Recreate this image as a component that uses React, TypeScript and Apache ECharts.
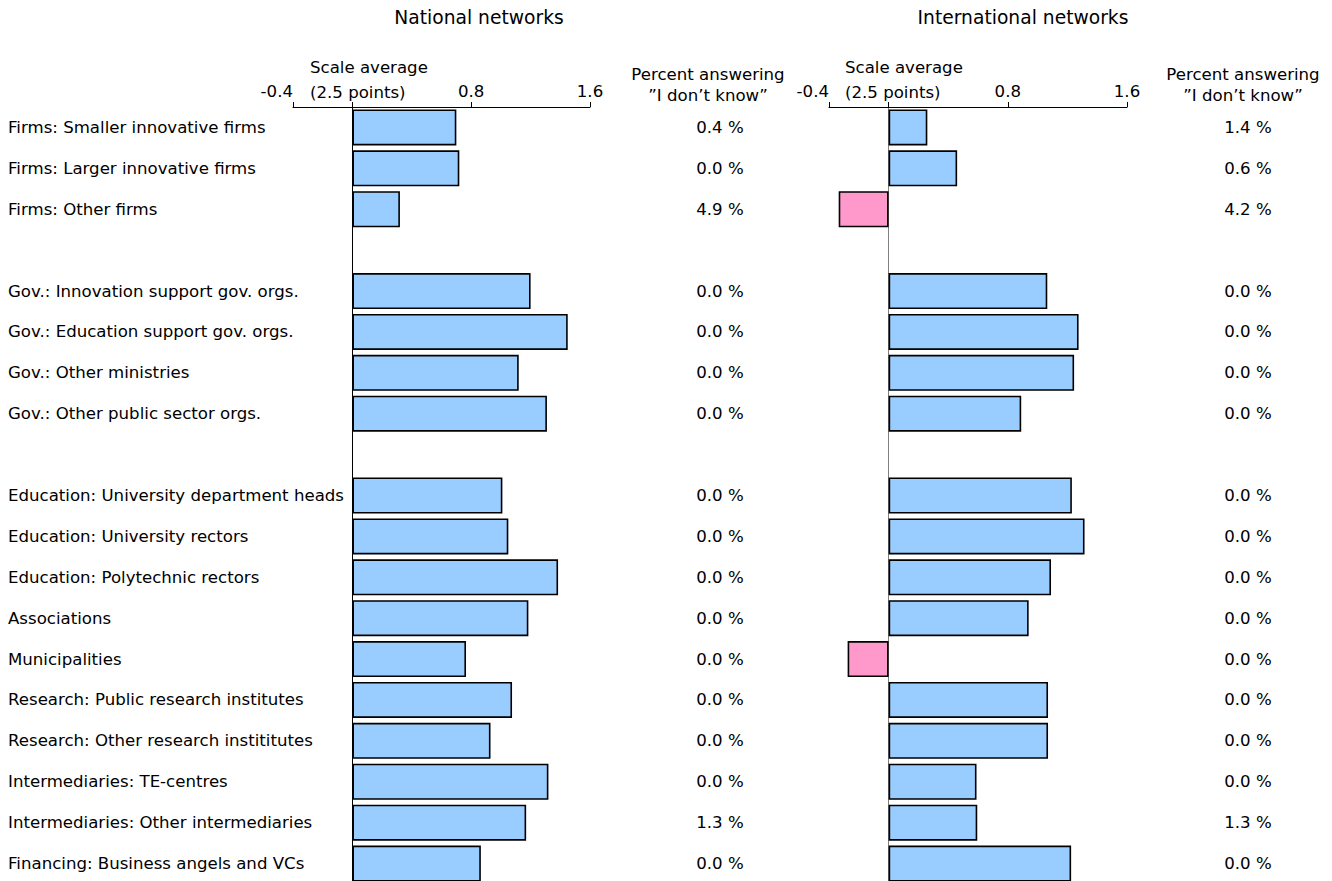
import React, { useEffect, useRef } from 'react';
import * as echarts from 'echarts';

const categories = [
  'Firms: Smaller innovative firms',
  'Firms: Larger innovative firms',
  'Firms: Other firms',
  ' ',
  'Gov.: Innovation support gov. orgs.',
  'Gov.: Education support gov. orgs.',
  'Gov.: Other ministries',
  'Gov.: Other public sector orgs.',
  '  ',
  'Education: University department heads',
  'Education: University rectors',
  'Education: Polytechnic rectors',
  'Associations',
  'Municipalities',
  'Research: Public research institutes',
  'Research: Other research instititutes',
  'Intermediaries: TE-centres',
  'Intermediaries: Other intermediaries',
  'Financing: Business angels and VCs',
];

const nationalValues = [0.70, 0.72, 0.32, null, 1.20, 1.45, 1.12, 1.31, null, 1.01, 1.05, 1.385, 1.185, 0.765, 1.075, 0.93, 1.32, 1.17, 0.865];
const internationalValues = [0.26, 0.46, -0.335, null, 1.065, 1.275, 1.245, 0.89, null, 1.23, 1.315, 1.09, 0.94, -0.275, 1.07, 1.07, 0.59, 0.595, 1.225];

const nationalDontKnow = [0.4, 0.0, 4.9, null, 0.0, 0.0, 0.0, 0.0, null, 0.0, 0.0, 0.0, 0.0, 0.0, 0.0, 0.0, 0.0, 1.3, 0.0];
const internationalDontKnow = [1.4, 0.6, 4.2, null, 0.0, 0.0, 0.0, 0.0, null, 0.0, 0.0, 0.0, 0.0, 0.0, 0.0, 0.0, 0.0, 1.3, 0.0];

const tickValues = [-0.4, 0, 0.8, 1.6];
const tickLabelValues = [-0.4, 0.8, 1.6];

const FONT = '"DejaVu Sans", Verdana, sans-serif';
const BODY = 16.6;
const BLUE = '#99CCFF';
const PINK = '#FF99CC';

const pctLabel = (v: number | null) => (v === null ? '' : `${v.toFixed(1)} %`);

export default function App() {
  const ref = useRef<HTMLDivElement>(null);

  useEffect(() => {
    if (!ref.current) return;
    const chart = echarts.init(ref.current, undefined, { renderer: 'svg' });

    const xAxisBase = (gridIndex: number) => ({
      type: 'value',
      gridIndex,
      position: 'top',
      min: -0.4,
      max: 1.6,
      axisLine: { show: true, onZero: false, lineStyle: { color: '#000', width: 1 } },
      axisTick: { show: true, length: 5, customValues: tickValues, lineStyle: { color: '#000' } },
      axisLabel: {
        show: true,
        customValues: tickLabelValues,
        margin: 7,
        alignMinLabel: 'right',
        fontFamily: FONT,
        fontSize: BODY,
        color: '#000',
        formatter: (v: number) => v.toFixed(1),
      },
      splitLine: { show: false },
    });

    const barColor = (p: any) => (p.value < 0 ? PINK : BLUE);

    const headerTexts = [
      { text: 'National networks', x: 479, y: 17, size: 18.7, align: 'center', lh: 22 },
      { text: 'International networks', x: 1023, y: 17, size: 18.7, align: 'center', lh: 22 },
      { text: 'Scale average\n(2.5 points)', x: 310, y: 80, size: BODY, align: 'left', lh: 25 },
      { text: 'Scale average\n(2.5 points)', x: 845, y: 80, size: BODY, align: 'left', lh: 25 },
      { text: 'Percent answering\n\u201DI don\u2019t know\u201D', x: 708, y: 85, size: BODY, align: 'center', lh: 21 },
      { text: 'Percent answering\n\u201DI don\u2019t know\u201D', x: 1243, y: 85, size: BODY, align: 'center', lh: 21 },
    ];

    chart.setOption({
      animation: false,
      backgroundColor: '#fff',
      grid: [
        { left: 293, top: 107, width: 297, height: 777, containLabel: false, outerBoundsMode: 'none' },
        { left: 829, top: 107, width: 298, height: 777, containLabel: false, outerBoundsMode: 'none' },
      ],
      xAxis: [xAxisBase(0), xAxisBase(1)],
      yAxis: [
        {
          type: 'category',
          gridIndex: 0,
          inverse: true,
          data: categories,
          axisLine: { show: true, onZero: true, lineStyle: { color: '#000', width: 1 } },
          axisTick: { show: false },
          axisLabel: {
            align: 'left',
            margin: 285,
            interval: 0,
            padding: [4, 0, 0, 0],
            fontFamily: FONT,
            fontSize: BODY,
            color: '#000',
          },
        },
        {
          type: 'category',
          gridIndex: 0,
          inverse: true,
          position: 'right',
          data: categories,
          axisLine: { show: false, onZero: false },
          axisTick: { show: false },
          axisLabel: {
            align: 'center',
            margin: 130,
            interval: 0,
            padding: [4, 0, 0, 0],
            fontFamily: FONT,
            fontSize: BODY,
            color: '#000',
            formatter: (_: string, i: number) => pctLabel(nationalDontKnow[i]),
          },
        },
        {
          type: 'category',
          gridIndex: 1,
          inverse: true,
          data: categories,
          axisLine: { show: true, onZero: true, lineStyle: { color: '#808080', width: 1 } },
          axisTick: { show: false },
          axisLabel: { show: false },
        },
        {
          type: 'category',
          gridIndex: 1,
          inverse: true,
          position: 'right',
          data: categories,
          axisLine: { show: false, onZero: false },
          axisTick: { show: false },
          axisLabel: {
            align: 'center',
            margin: 121,
            interval: 0,
            padding: [6, 0, 0, 0],
            fontFamily: FONT,
            fontSize: BODY,
            color: '#000',
            formatter: (_: string, i: number) => pctLabel(internationalDontKnow[i]),
          },
        },
      ],
      series: [
        {
          type: 'bar',
          name: 'National networks',
          xAxisIndex: 0,
          yAxisIndex: 0,
          data: nationalValues,
          barWidth: 36,
          itemStyle: { color: barColor, borderColor: '#000', borderWidth: 1.6 },
        },
        {
          type: 'bar',
          name: 'International networks',
          xAxisIndex: 1,
          yAxisIndex: 2,
          data: internationalValues,
          barWidth: 36,
          itemStyle: { color: barColor, borderColor: '#000', borderWidth: 1.6 },
        },
      ],
      graphic: headerTexts.map((t) => ({
        type: 'text',
        x: t.x,
        y: t.y,
        silent: true,
        style: {
          text: t.text,
          fill: '#000',
          fontFamily: FONT,
          fontSize: t.size,
          lineHeight: t.lh,
          textAlign: t.align,
          textVerticalAlign: 'middle',
        },
      })),
    });

    return () => chart.dispose();
  }, []);

  return (
    <div
      ref={ref}
      style={{ position: 'absolute', left: 0, top: 0, width: 1332, height: 881 }}
    />
  );
}
